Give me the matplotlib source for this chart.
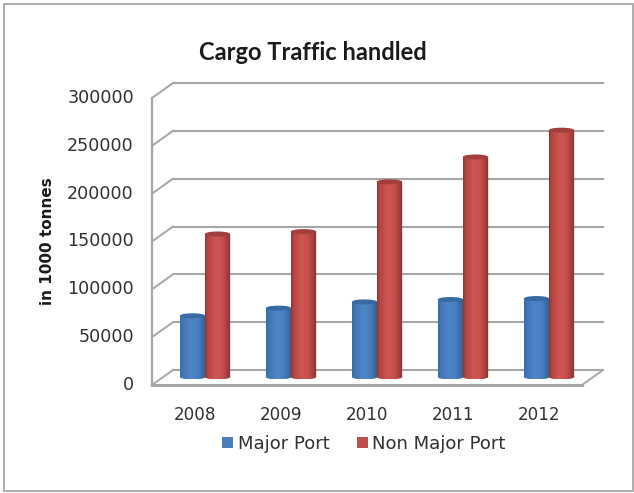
import numpy as np
import matplotlib
matplotlib.use("Agg")
import matplotlib.pyplot as plt
from matplotlib.patches import Rectangle, Ellipse, PathPatch
from matplotlib.path import Path
from matplotlib.transforms import ScaledTranslation
from matplotlib.colors import LinearSegmentedColormap

years = ["2008", "2009", "2010", "2011", "2012"]
major_port = [64000, 72000, 78500, 81000, 82000]
non_major_port = [149500, 152000, 204000, 230000, 258000]
y_ticks = [0, 50000, 100000, 150000, 200000, 250000, 300000]

W, H, DPI = 634, 493, 100
fig = plt.figure(figsize=(W / DPI, H / DPI), dpi=DPI, facecolor="white")
TC = "#303030"
GRID = "#a6a6a6"

# outer frame
fig.add_artist(Rectangle((4 / W, 1 - 491 / H), 629 / W, 487.5 / H, transform=fig.transFigure,
                         fill=False, ec="#a6a6a6", lw=1.3))

L, R, T, B = 152, 582, 98, 385
ax = fig.add_axes([L / W, 1 - B / H, (R - L) / W, (B - T) / H])
ax.set_xlim(-0.5, 4.5)
ax.set_ylim(0, 300000)
ax.patch.set_visible(False)
for s in ax.spines.values():
    s.set_visible(False)


def shift(dx, dy):
    return ax.transData + ScaledTranslation(dx / DPI, -dy / DPI, fig.dpi_scale_trans)


DX, DY = 21, -15
back = shift(DX, DY)
x0, x1 = ax.get_xlim()
px = (x1 - x0) / (R - L)
py = 300000 / (B - T)
for v in y_ticks:
    ax.plot([x0, x1], [v, v], transform=back, color=GRID, lw=1.5, clip_on=False, zorder=1)
    ax.plot([x0, x0 + DX * px], [v, v - DY * py], color=GRID, lw=1.4, clip_on=False, zorder=1)
# floor edges and left wall
ax.plot([x0, x0], [0, 300000], color=GRID, lw=1.6, clip_on=False, zorder=2)
ax.plot([x0, x1], [0, 0], color=GRID, lw=2.2, clip_on=False, zorder=2)
ax.plot([x1, x1 + DX * px], [0, -DY * py], color=GRID, lw=1.4, clip_on=False, zorder=2)

mid = shift(10, -8)
bw = 0.295
eh = 5.0 * py

blue = LinearSegmentedColormap.from_list(
    "b", [(0, "#3a6ba6"), (0.12, "#4176b5"), (0.4, "#4d85c8"), (0.68, "#4a80c0"), (0.88, "#3a6ca6"), (1, "#2f5a8f")])
red = LinearSegmentedColormap.from_list(
    "r", [(0, "#8f3734"), (0.1, "#b34542"), (0.4, "#cd5552"), (0.68, "#c64f4c"), (0.88, "#a23e3b"), (1, "#7f2f2d")])
grad = np.linspace(0, 1, 64).reshape(1, -1)


def cylinder(x, v, cmap, top, z):
    xl, xr = x - bw / 2, x + bw / 2
    k = 0.5523
    ry = eh / 2
    rx = bw / 2
    verts = [(xl, v), (xl, 0),
             (xl, -k * ry), (x - k * rx, -ry), (x, -ry),
             (x + k * rx, -ry), (xr, -k * ry), (xr, 0),
             (xr, v), (xl, v)]
    codes = [Path.MOVETO, Path.LINETO, Path.CURVE4, Path.CURVE4, Path.CURVE4,
             Path.CURVE4, Path.CURVE4, Path.CURVE4, Path.LINETO, Path.CLOSEPOLY]
    clip = PathPatch(Path(verts, codes), transform=mid, fc="none", ec="none")
    ax.add_patch(clip)
    im = ax.imshow(grad, cmap=cmap, extent=(xl, xr, -ry, v), aspect="auto",
                   transform=mid, zorder=z, interpolation="bilinear")
    im.set_clip_path(clip)
    ax.add_patch(Ellipse((x, v), bw, eh, transform=mid, fc=top, ec="none", zorder=z + 0.1, clip_on=False))


off = 0.145
for i in range(len(years)):
    cylinder(i - off, major_port[i], blue, "#376aa3", 3)
    cylinder(i + off, non_major_port[i], red, "#a23f3c", 4)

ax.set_xlim(x0, x1)
ax.set_ylim(0, 300000)

ax.set_xticks(range(len(years)), years)
ax.set_yticks(y_ticks, [str(v) for v in y_ticks])
ax.tick_params(axis="x", length=0, pad=15, labelsize=12.1, labelcolor=TC)
ax.tick_params(axis="y", length=0, pad=13, labelsize=12.6, labelcolor=TC)
lift = ScaledTranslation(0, 2 / DPI, fig.dpi_scale_trans)
for t in ax.get_yticklabels():
    t.set_transform(t.get_transform() + lift)

fig.text(312.5 / W, 1 - 53 / H, "Cargo Traffic handled", ha="center", va="center",
         family="Lato", weight="bold", fontsize=17, color="#1a1a1a")
fig.text(48 / W, 1 - 241.5 / H, "in 1000 tonnes", ha="center", va="center", rotation=90,
         family="DejaVu Sans", weight="bold", fontsize=11, color="#1a1a1a")

# legend
fig.add_artist(Rectangle((222 / W, 1 - 448 / H), 11 / W, 11 / H, transform=fig.transFigure, fc="#4a7ebb", ec="none"))
fig.add_artist(Rectangle((357 / W, 1 - 448 / H), 11 / W, 11 / H, transform=fig.transFigure, fc="#c0504d", ec="none"))
fig.text(238 / W, 1 - 444 / H, "Major Port", ha="left", va="center", fontsize=13, color=TC)
fig.text(372 / W, 1 - 444 / H, "Non Major Port", ha="left", va="center", fontsize=13, color=TC)

fig.savefig("out.png", dpi=DPI)
